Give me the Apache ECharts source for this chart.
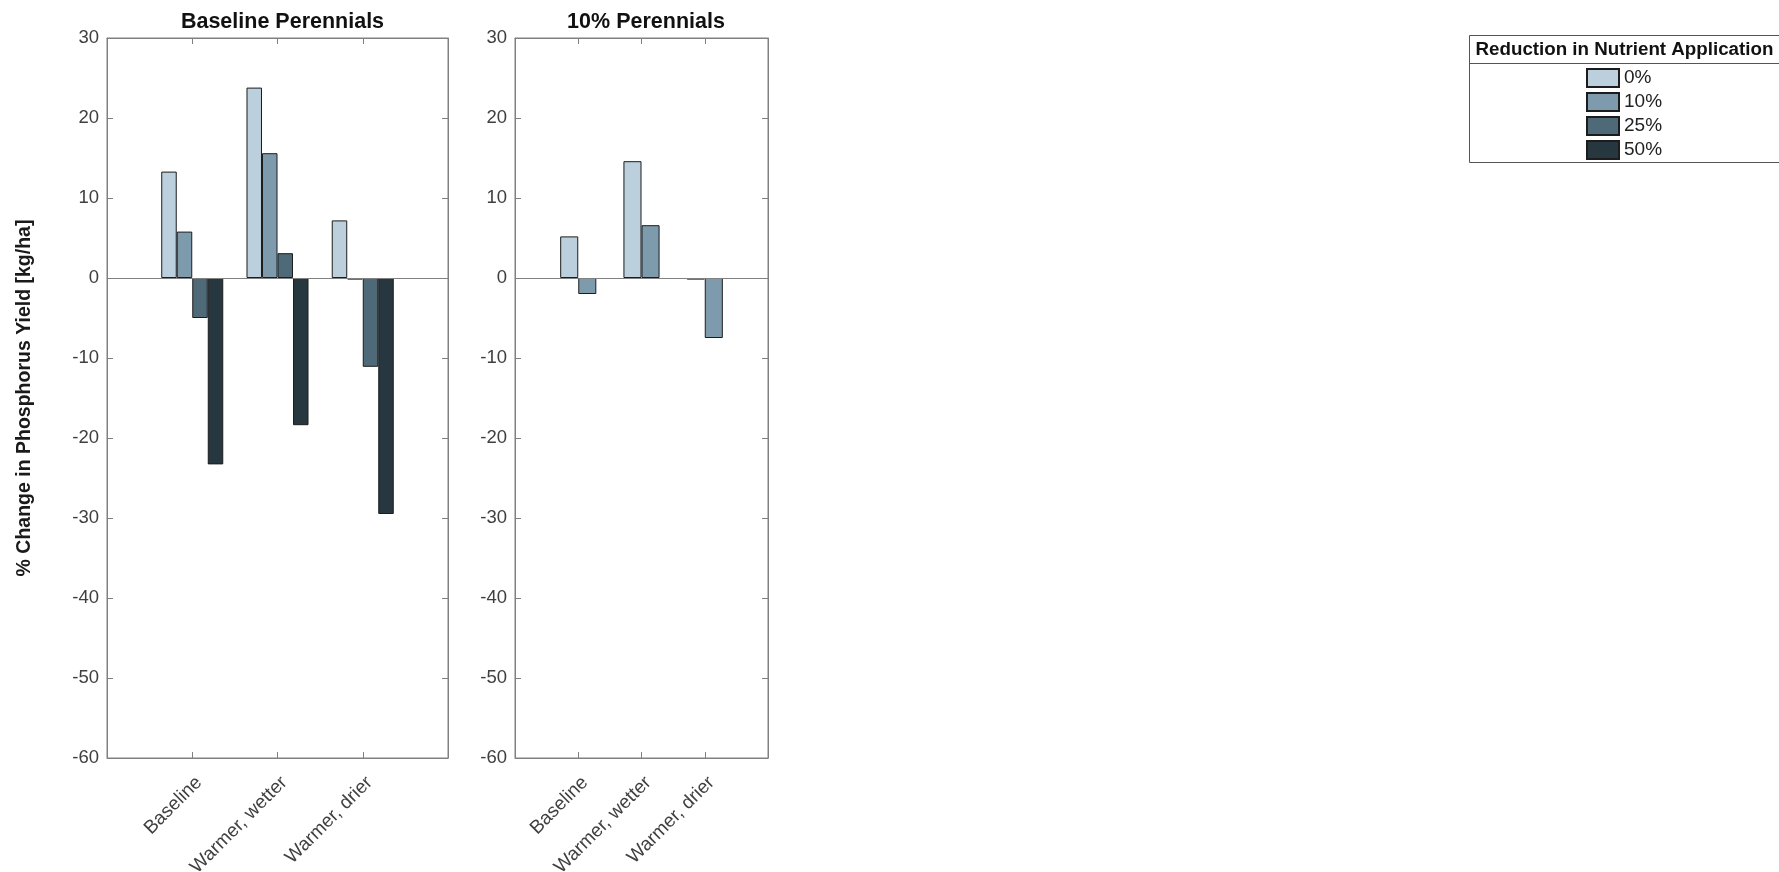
<!DOCTYPE html>
<html>
<head>
<meta charset="utf-8">
<title>% Change in Phosphorus Yield</title>
<script src="https://cdn.jsdelivr.net/npm/echarts@6/dist/echarts.min.js"></script>
<style>
  html, body { margin: 0; padding: 0; background: #ffffff; }
  #chart { width: 1779px; height: 872px; }
</style>
</head>
<body>
<div id="chart"></div>
<script>
// Climate scenarios on the x axis
const categories = ['Baseline', 'Warmer, wetter', 'Warmer, drier'];

// Reduction in nutrient application (legend entries)
const reductions = ['0%', '10%', '25%', '50%'];

// % change in phosphorus yield, baseline perennials panel
const basePerennials0 = [13.3, 23.8, 7.2];
const basePerennials10 = [5.8, 15.6, -0.2];
const basePerennials25 = [-5.0, 3.1, -11.1];
const basePerennials50 = [-23.3, -18.4, -29.5];

// % change in phosphorus yield, 10% perennials panel
const tenPerennials0 = [5.2, 14.6, -0.2];
const tenPerennials10 = [-2.0, 6.6, -7.5];

// y axis ticks
const yMin = -60;
const yMax = 30;
const yStep = 10;

const panelTitles = ['Baseline Perennials', '10% Perennials'];
const yAxisTitle = '% Change in Phosphorus Yield [kg/ha]';
const legendTitle = 'Reduction in Nutrient Application';

const barColors = ['#bccfdc', '#7e9bad', '#4e6a78', '#27373f'];
const FONT = '"Liberation Sans", Arial, Helvetica, sans-serif';
const AXIS_GRAY = '#808080';
const TEXT_GRAY = '#404040';

// the x range spans one empty slot on each side of the three scenarios
const paddedCats = [''].concat(categories, ['']);
const pad = arr => [null].concat(arr, [null]);

const grids = [
  { left: 107, top: 38, width: 341, height: 720 },
  { left: 515, top: 38, width: 253, height: 720 }
].map(g => Object.assign(g, {
  show: true, borderColor: AXIS_GRAY, borderWidth: 1, backgroundColor: 'transparent',
  containLabel: false, outerBoundsMode: 'none'
}));

function xAxisFor(gridIndex, top) {
  return {
    type: 'category',
    gridIndex,
    position: top ? 'top' : 'bottom',
    data: paddedCats,
    boundaryGap: false,
    axisLine: { show: true, onZero: false, lineStyle: { color: AXIS_GRAY, width: 1 } },
    axisTick: { show: true, inside: true, length: 6, interval: 0, lineStyle: { color: AXIS_GRAY } },
    axisLabel: top ? { show: false } : {
      show: true, interval: 0, rotate: 45, margin: 15,
      verticalAlign: 'top',
      fontFamily: FONT, fontSize: 19, color: TEXT_GRAY
    },
    splitLine: { show: false }
  };
}

function yAxisFor(gridIndex, right, withName) {
  const ax = {
    type: 'value',
    gridIndex,
    position: right ? 'right' : 'left',
    min: yMin, max: yMax, interval: yStep,
    axisLine: { show: true, onZero: false, lineStyle: { color: AXIS_GRAY, width: 1 } },
    axisTick: { show: true, inside: true, length: 6, lineStyle: { color: AXIS_GRAY } },
    axisLabel: right ? { show: false } : {
      show: true, margin: 8, fontFamily: FONT, fontSize: 18.5, color: TEXT_GRAY
    },
    splitLine: { show: false }
  };
  if (withName) {
    Object.assign(ax, {
      name: yAxisTitle,
      nameLocation: 'middle',
      nameRotate: 90,
      nameGap: 72,
      nameTextStyle: { fontFamily: FONT, fontSize: 19.5, fontWeight: 'bold', color: '#1a1a1a' }
    });
  }
  return ax;
}

const zeroLine = {
  silent: true,
  symbol: 'none',
  label: { show: false },
  lineStyle: { color: AXIS_GRAY, width: 1, type: 'solid' },
  data: [{ yAxis: 0 }]
};

function barSeries(name, values, colorIndex, axisIndex, categoryGap, withZero) {
  const s = {
    name,
    type: 'bar',
    xAxisIndex: axisIndex,
    yAxisIndex: axisIndex,
    data: pad(values),
    barGap: '0%',
    barCategoryGap: categoryGap,
    itemStyle: { color: barColors[colorIndex], borderColor: '#1c1c1c', borderWidth: 1 },
    emphasis: { disabled: true },
    animation: false
  };
  if (withZero) s.markLine = zeroLine;
  return s;
}

// four bars per group in the first panel, two in the second
const gap4 = '27.27%';
const gap2 = '42.86%';

const titleStyle = { fontFamily: FONT, fontSize: 21.5, fontWeight: 'bold', color: '#111' };

const option = {
  animation: false,
  title: [
    { text: panelTitles[0], left: 277.5, top: 6, textAlign: 'center', textStyle: titleStyle },
    { text: panelTitles[1], left: 641, top: 6, textAlign: 'center', textStyle: titleStyle }
  ],
  legend: {
    data: reductions,
    orient: 'vertical',
    left: 1586,
    top: 68,
    padding: 0,
    itemWidth: 32,
    itemHeight: 18,
    itemGap: 4,
    icon: 'rect',
    selectedMode: false,
    textStyle: { fontFamily: FONT, fontSize: 19, color: '#222' }
  },
  grid: grids,
  xAxis: [xAxisFor(0, false), xAxisFor(1, false), xAxisFor(0, true), xAxisFor(1, true)],
  yAxis: [yAxisFor(0, false, true), yAxisFor(1, false, false), yAxisFor(0, true, false), yAxisFor(1, true, false)],
  series: [
    barSeries(reductions[0], basePerennials0, 0, 0, gap4, true),
    barSeries(reductions[1], basePerennials10, 1, 0, gap4, false),
    barSeries(reductions[2], basePerennials25, 2, 0, gap4, false),
    barSeries(reductions[3], basePerennials50, 3, 0, gap4, false),
    barSeries(reductions[0], tenPerennials0, 0, 1, gap2, true),
    barSeries(reductions[1], tenPerennials10, 1, 1, gap2, false)
  ],
  graphic: [
    // legend frame with a title row
    {
      type: 'rect', silent: true, z: 10,
      shape: { x: 1469.5, y: 35.5, width: 340, height: 127 },
      style: { fill: 'transparent', stroke: '#555', lineWidth: 1 }
    },
    {
      type: 'line', silent: true, z: 10,
      shape: { x1: 1469.5, y1: 63.5, x2: 1800, y2: 63.5 },
      style: { stroke: '#555', lineWidth: 1 }
    },
    {
      type: 'text', silent: true, z: 10,
      x: 1475.5, y: 49.5,
      style: {
        text: legendTitle, fontFamily: FONT, fontSize: 18.75, fontWeight: 'bold',
        fill: '#111', verticalAlign: 'middle', align: 'left'
      }
    }
  ]
};

const chart = echarts.init(document.getElementById('chart'), null, { renderer: 'canvas' });
chart.setOption(option);
</script>
</body>
</html>
